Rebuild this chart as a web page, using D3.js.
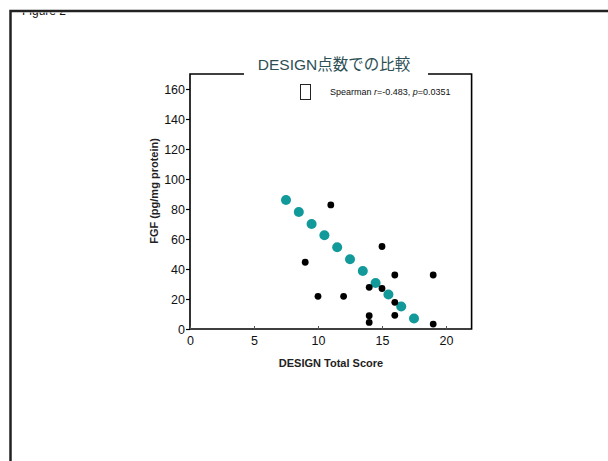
<!DOCTYPE html>
<html>
<head>
<meta charset="utf-8">
<script src="https://cdn.jsdelivr.net/npm/d3@7"></script>
<style>
  body { margin: 0; background: #fff; }
  svg { display: block; }
</style>
</head>
<body>
<div id="chart"></div>
<script>
const width = 608;
const height = 461;

// fitted line points (teal)
const fitX = [7.5, 8.5, 9.5, 10.5, 11.5, 12.5, 13.5, 14.5, 15.5, 16.5, 17.5];
const fitY = [86, 78, 70, 62.5, 54.5, 46.5, 38.7, 30.7, 23, 15, 7];

// observed samples (black)
const obsX = [11, 9, 15, 16, 19, 14, 15, 10, 12, 16, 14, 16, 14, 19];
const obsY = [82.7, 44.5, 55, 36, 36, 27.8, 27, 21.8, 21.8, 17.8, 8.9, 9.1, 4.4, 3.3];

const xTicks = [0, 5, 10, 15, 20];
const yTicks = [0, 20, 40, 60, 80, 100, 120, 140, 160];

const svg = d3.select("#chart")
    .append("svg")
    .attr("width", width)
    .attr("height", height);

// outer frame + clipped "Figure 2"
svg.append("clipPath").attr("id", "figclip")
    .append("rect").attr("x", 0).attr("y", 12.5).attr("width", width).attr("height", 20);

svg.append("text")
    .attr("clip-path", "url(#figclip)")
    .attr("x", 22)
    .attr("y", 14.5)
    .attr("font-family", "Liberation Sans, Arial, sans-serif")
    .attr("font-size", 12)
    .attr("fill", "#111")
    .text("Figure 2");

svg.append("path")
    .attr("d", `M10.5,${height} V11 H${width}`)
    .attr("fill", "none")
    .attr("stroke", "#222")
    .attr("stroke-width", 2.5);

const x = d3.scaleLinear().domain([0, 22]).range([190, 471.6]);
const y = d3.scaleLinear().domain([0, 170]).range([329, 74]);

const font = "Liberation Sans, Arial, sans-serif";

// plot box (top line has a gap for the title)
const box = svg.append("g")
    .attr("fill", "none")
    .attr("stroke", "#000")
    .attr("stroke-width", 1.6);
box.append("path")
    .attr("d", `M${x(0)},${y(0)} V${y(170)} H244`);
box.append("path")
    .attr("d", `M428,${y(170)} H${x(22)} V${y(0)} H${x(0)}`);

// y axis
const yAxis = svg.append("g")
    .attr("transform", `translate(${x(0)},0)`)
    .call(d3.axisLeft(y).tickValues(yTicks).tickSize(4).tickSizeOuter(0));
yAxis.select(".domain").remove();
yAxis.selectAll("line").attr("stroke", "#000").attr("stroke-width", 1.2);
yAxis.selectAll("text")
    .attr("x", -5)
    .attr("font-family", font)
    .attr("font-size", 12.5)
    .attr("fill", "#111");

// x axis (ticks point inward)
const xAxis = svg.append("g")
    .attr("transform", `translate(0,${y(0)})`)
    .call(d3.axisBottom(x).tickValues(xTicks).tickSize(-3).tickSizeOuter(0));
xAxis.select(".domain").remove();
xAxis.selectAll("line").attr("stroke", "#555").attr("stroke-width", 1);
xAxis.selectAll("text")
    .attr("y", 7)
    .attr("dy", "0.71em")
    .attr("font-family", font)
    .attr("font-size", 12.5)
    .attr("fill", "#111");

// axis titles
svg.append("text")
    .attr("transform", `translate(158,${y(92)}) rotate(-90)`)
    .attr("text-anchor", "middle")
    .attr("font-family", font)
    .attr("font-size", 11)
    .attr("font-weight", "bold")
    .attr("fill", "#222")
    .text("FGF (pg/mg protein)");

svg.append("text")
    .attr("x", 331)
    .attr("y", 367)
    .attr("text-anchor", "middle")
    .attr("font-family", font)
    .attr("font-size", 11)
    .attr("font-weight", "bold")
    .attr("fill", "#222")
    .text("DESIGN Total Score");

// chart title
svg.append("text")
    .attr("x", 334)
    .attr("y", 70)
    .attr("text-anchor", "middle")
    .attr("font-family", "Liberation Sans, 'Noto Sans CJK JP', sans-serif")
    .attr("font-size", 15.5)
    .attr("fill", "#2c4f55")
    .text("DESIGN点数での比較");

// empty glyph box + stats note
svg.append("rect")
    .attr("x", 300.5).attr("y", 84.5)
    .attr("width", 10).attr("height", 15)
    .attr("fill", "none")
    .attr("stroke", "#222")
    .attr("stroke-width", 1);

const note = svg.append("text")
    .attr("x", 330)
    .attr("y", 94.5)
    .attr("font-family", font)
    .attr("font-size", 9)
    .attr("fill", "#111");
note.append("tspan").text("Spearman ");
note.append("tspan").attr("font-style", "italic").text("r");
note.append("tspan").text("=-0.483, ");
note.append("tspan").attr("font-style", "italic").text("p");
note.append("tspan").text("=0.0351");

// teal fit points
svg.selectAll("circle.fit")
    .data(fitX.map((d, i) => ({ x: d, y: fitY[i] })))
    .enter()
    .append("circle")
    .attr("class", "fit")
    .attr("cx", d => x(d.x))
    .attr("cy", d => y(d.y))
    .attr("r", 5)
    .attr("fill", "#12999a");

// black observed points
svg.selectAll("circle.obs")
    .data(obsX.map((d, i) => ({ x: d, y: obsY[i] })))
    .enter()
    .append("circle")
    .attr("class", "obs")
    .attr("cx", d => x(d.x))
    .attr("cy", d => y(d.y))
    .attr("r", 3.4)
    .attr("fill", "#000");
</script>
</body>
</html>
